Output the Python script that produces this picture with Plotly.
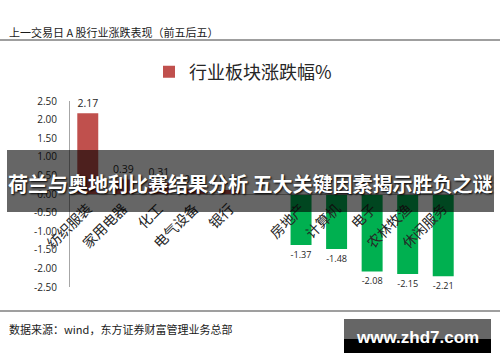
import plotly.graph_objects as go

# ---- data ----
categories = ["纺织服装", "家用电器", "化工", "电气设备", "银行", " ",
              "房地产", "计算机", "电子", "农林牧渔", "休闲服务"]
values = [2.17, 0.39, 0.31, 0.14, 0.11, None, -1.37, -1.48, -2.08, -2.15, -2.21]
y_ticks = [2.5, 2.0, 1.5, 1.0, 0.5, 0.0, -0.5, -1.0, -1.5, -2.0, -2.5]
series_name = "行业板块涨跌幅%"
header = "上一交易日 A 股行业涨跌表现（前五后五）"
source = "数据来源：wind，东方证券财富管理业务总部"
overlay_title = "荷兰与奥地利比赛结果分析 五大关键因素揭示胜负之谜"
watermark = "www.zhd7.com"

W, H = 500, 362
RED, GREEN = "#C0504D", "#00B050"

def px(x):
    return x / W

def py(y):
    return 1 - y / H

colors = [RED if (v is not None and v >= 0) else GREEN for v in values]
texts = ["" if v is None else f"{v:.2f}" for v in values]

fig = go.Figure()
fig.add_trace(go.Bar(
    x=categories, y=values, name=series_name,
    marker=dict(color=colors, line=dict(width=0)),
    text=texts, textposition="outside", cliponaxis=False,
    textfont=dict(family="Open Sans, Liberation Sans, sans-serif", size=10.5, color="#262626"),
    showlegend=True,
))

cjk = "Noto Sans CJK SC, sans-serif"

fig.update_layout(
    width=W, height=H,
    margin=dict(l=0, r=0, t=0, b=0, autoexpand=False),
    paper_bgcolor="white", plot_bgcolor="white",
    bargap=0.41,
    xaxis=dict(
        domain=[px(70), px(461)],
        anchor="free", position=py(194),
        type="category", range=[-0.5, 10.5],
        showline=True, linecolor="#a6a6a6", linewidth=1,
        ticks="", tickangle=-45, automargin=False,
        tickfont=dict(family=cjk, size=14, color="#262626"),
        showgrid=False, zeroline=False,
    ),
    yaxis=dict(
        domain=[py(287), py(101)],
        range=[-2.5, 2.5],
        tickvals=y_ticks, ticktext=[f"{t:.2f}" for t in y_ticks],
        showline=True, linecolor="#a6a6a6", linewidth=1,
        ticks="", ticklabelstandoff=10, automargin=False,
        tickfont=dict(family="Open Sans, Liberation Sans, sans-serif", size=10, color="#262626"),
        showgrid=False, zeroline=False,
    ),
    legend=dict(
        x=px(149), y=py(72), xanchor="left", yanchor="middle",
        font=dict(family=cjk, size=18, color="#262626"),
        bgcolor="rgba(0,0,0,0)",
    ),
    shapes=[
        dict(type="line", xref="paper", yref="paper", x0=0, x1=1, y0=py(40), y1=py(40),
             line=dict(color="#7f7f7f", width=1.5)),
        dict(type="line", xref="paper", yref="paper", x0=0, x1=1, y0=py(311), y1=py(311),
             line=dict(color="#7f7f7f", width=1.5)),
        dict(type="rect", xref="paper", yref="paper", x0=px(7), x1=px(494), y0=py(212), y1=py(150),
             fillcolor="rgba(0,0,0,0.6)", line=dict(width=0), layer="above"),
        dict(type="rect", xref="paper", yref="paper", x0=px(344), x1=px(491), y0=py(339), y1=py(319),
             fillcolor="#666666", line=dict(width=0), layer="above"),
        dict(type="rect", xref="paper", yref="paper", x0=px(344), x1=px(491), y0=py(353), y1=py(339),
             fillcolor="#000000", line=dict(width=0), layer="above"),
    ],
    annotations=[
        dict(text=header, xref="paper", yref="paper", x=px(7), y=py(32),
             xanchor="left", yanchor="middle", showarrow=False,
             font=dict(family=cjk, size=11, color="#1a1a1a")),
        dict(text=source, xref="paper", yref="paper", x=px(7), y=py(329),
             xanchor="left", yanchor="middle", showarrow=False,
             font=dict(family=cjk, size=11, color="#1a1a1a")),
        dict(text=f"<b>{overlay_title}</b>", xref="paper", yref="paper", x=px(250), y=py(183),
             xanchor="center", yanchor="middle", showarrow=False,
             font=dict(family=cjk, size=20, color="white", shadow="1px 1px 2px #000")),
        dict(text=f"<b>{watermark}</b>", xref="paper", yref="paper", x=px(417), y=py(337),
             xanchor="center", yanchor="middle", showarrow=False,
             font=dict(family="Liberation Sans, Arial, sans-serif", size=17, color="white")),
    ],
)

fig.write_html("out.html")
